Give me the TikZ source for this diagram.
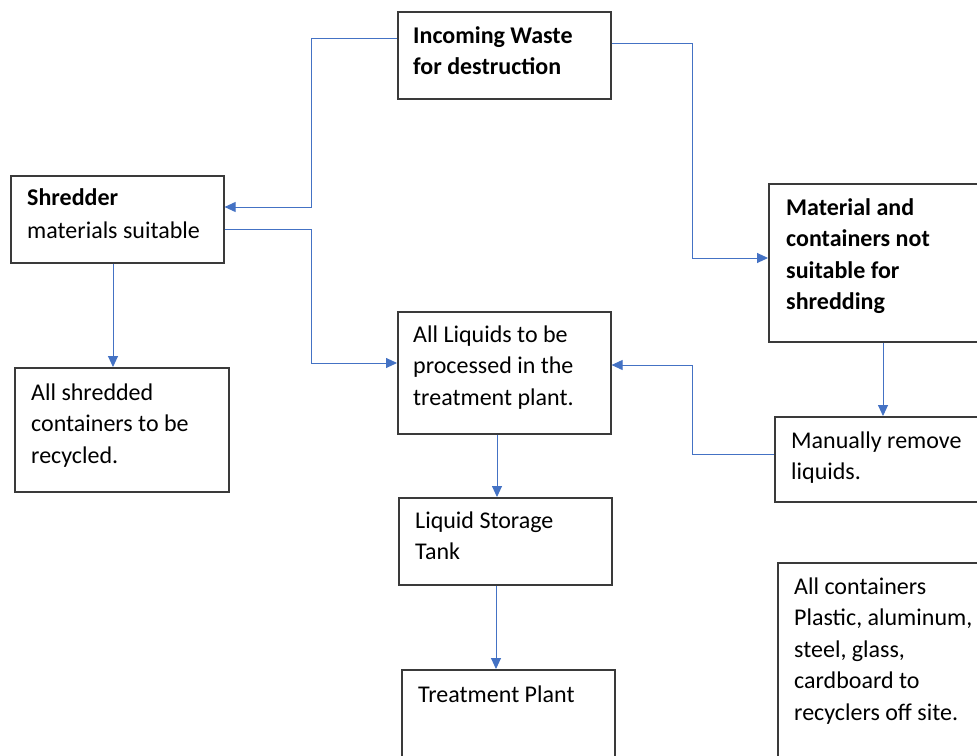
\documentclass[tikz,border=0pt]{standalone}
\usepackage{fontspec}
\setmainfont{Carlito}
\usetikzlibrary{calc,arrows.meta}
\definecolor{conncol}{HTML}{4472C4}
\definecolor{boxcol}{HTML}{3A3A3A}
\begin{document}
\begin{tikzpicture}[x=1pt,y=-1pt,
  box/.style={draw=boxcol, line width=1.6pt, rectangle, inner sep=0pt, anchor=north west},
  txt/.style={anchor=north west, inner sep=0pt, align=left, text=black, font=\fontsize{24}{31.5}\selectfont},
  conn/.style={draw=conncol, line width=0.9pt, -{Triangle[length=11pt,width=10pt]}}
]
\useasboundingbox (0,0) rectangle (977,755);
\fill[white] (0,0) rectangle (977,755);
% boxes
\node[box, minimum width=213pt, minimum height=87pt] (inc) at (397,11) {};
\node[box, minimum width=213pt, minimum height=87pt] (shr) at (10,175) {};
\node[box, minimum width=214pt, minimum height=124pt] (sh2) at (14,367) {};
\node[box, minimum width=213pt, minimum height=122pt] (liq) at (397,311) {};
\node[box, minimum width=213pt, minimum height=87pt] (tank) at (398,497) {};
\node[box, minimum width=213pt, minimum height=95pt] (tp) at (401,669) {};
\node[box, minimum width=215pt, minimum height=158pt] (mat) at (768,183) {};
\node[box, minimum width=215pt, minimum height=85pt] (man) at (774,416) {};
\node[box, minimum width=215pt, minimum height=200pt] (cont) at (777,562) {};
% texts
\node[txt] (tinc) at (413,23) {\rule{0pt}{20pt}\textbf{Incoming Waste}\\\textbf{for destruction}};
\node[txt] (tshr) at (27,185) {\rule{0pt}{20pt}\textbf{Shredder}\\[1.5pt]materials suitable};
\node[txt] (tsh2) at (31,380) {\rule{0pt}{20pt}All shredded\\containers to be\\recycled.};
\node[txt] (tliq) at (413,322) {\rule{0pt}{20pt}All Liquids to be\\processed in the\\treatment plant.};
\node[txt] (ttank) at (415,508) {\rule{0pt}{20pt}Liquid Storage\\Tank};
\node[txt] (ttp) at (418,682) {\rule{0pt}{20pt}Treatment Plant};
\node[txt] (tmat) at (786,195) {\rule{0pt}{20pt}\textbf{Material and}\\\textbf{containers not}\\\textbf{suitable for}\\\textbf{shredding}};
\node[txt] (tman) at (791,428) {\rule{0pt}{20pt}Manually remove\\liquids.};
\node[txt] (tcont) at (794,574) {\rule{0pt}{20pt}All containers\\Plastic, aluminum,\\steel, glass,\\cardboard to\\recyclers off site.};
% connectors
\draw[conn] ($(inc.north west)+(0,27)$) -| (311,207) -- ($(shr.north east)+(0,32)$);
\draw[conn] ($(inc.north east)+(0,32)$) -| (692,258) -- ($(mat.north west)+(0,75)$);
\draw[conn] ($(shr.north east)+(0,54)$) -| (311,363) -- ($(liq.north west)+(0,52)$);
\draw[conn] ($(shr.south west)+(103,0)$) -- ($(sh2.north west)+(99,0)$);
\draw[conn] ($(mat.south west)+(115,0)$) -- ($(man.north west)+(109,0)$);
\draw[conn] ($(man.north west)+(0,38)$) -| (692,365) -- ($(liq.north east)+(0,54)$);
\draw[conn] ($(liq.south west)+(100,0)$) -- ($(tank.north west)+(99,0)$);
\draw[conn] ($(tank.south west)+(98,0)$) -- ($(tp.north west)+(95,0)$);
\end{tikzpicture}
\end{document}
